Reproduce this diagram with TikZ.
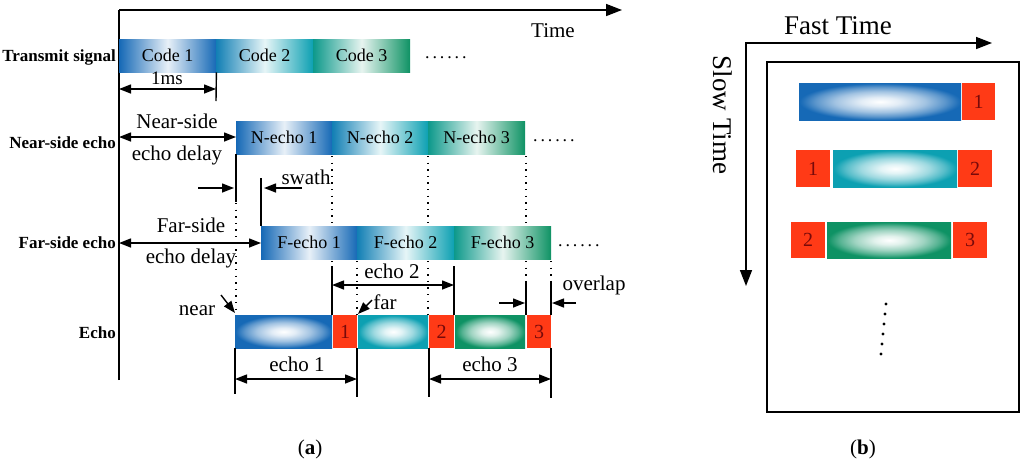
\documentclass[tikz,border=0pt]{standalone}
\usepackage{fontspec}
\setmainfont{Liberation Serif}
\usetikzlibrary{arrows.meta}
\definecolor{blueC}{RGB}{22,105,182}
\definecolor{tealC}{RGB}{12,160,178}
\definecolor{greenC}{RGB}{14,146,100}
\definecolor{redC}{RGB}{255,58,22}
\definecolor{numC}{RGB}{120,10,10}
\pgfdeclareradialshading{radblue}{\pgfpoint{0bp}{0bp}}{color(0bp)=(white); color(6bp)=(blueC!12); color(14bp)=(blueC!40); color(20bp)=(blueC!70); color(24bp)=(blueC!95); color(25bp)=(blueC); color(50bp)=(blueC)}
\pgfdeclareradialshading{radteal}{\pgfpoint{0bp}{0bp}}{color(0bp)=(white); color(6bp)=(tealC!12); color(14bp)=(tealC!40); color(20bp)=(tealC!70); color(24bp)=(tealC!95); color(25bp)=(tealC); color(50bp)=(tealC)}
\pgfdeclareradialshading{radgreen}{\pgfpoint{0bp}{0bp}}{color(0bp)=(white); color(6bp)=(greenC!12); color(14bp)=(greenC!40); color(20bp)=(greenC!70); color(24bp)=(greenC!95); color(25bp)=(greenC); color(50bp)=(greenC)}
\newcommand\fsz[1]{\fontsize{#1}{#1}\selectfont}
\begin{document}
\begin{tikzpicture}[x=1pt,y=-1pt,
  tip/.tip={Triangle[length=12pt,width=9pt]},
  bigtip/.tip={Triangle[length=16pt,width=12pt]},
  hbar/.style 2 args={inner sep=0pt, anchor=north west, minimum height=33pt,
     left color=#1, right color=#2, middle color=#2!10, font=\fsz{18}},
  rbar/.style={inner sep=0pt, anchor=north west, minimum height=33pt,
     shading=#1},
  redbox/.style={inner sep=0pt, anchor=north west, minimum height=33pt,
     fill=redC, text=numC, font=\fsz{20}},
  lab/.style={font=\fsz{21}, inner sep=0pt},
  rowlab/.style={font=\bfseries\fsz{17}, anchor=east, inner sep=0pt},
  ln/.style={line width=1.4pt},
  dots/.style={line width=1.4pt, dash pattern=on 1.4pt off 5.2pt},
  dim/.style={line width=1.4pt, tip-tip},
  arr/.style={line width=1.4pt, -tip},
  ell/.style={font=\fsz{18}\addfontfeature{LetterSpace=16}, inner sep=0pt}]
\useasboundingbox (0,0) rectangle (1024,469);

% ---------- panel (a) ----------
\coordinate (orig) at (119,10);
\coordinate (axbot) at (119,380);
\coordinate (axend) at (622,10);
\draw[line width=1.6pt] (axbot) -- (orig);
\draw[line width=1.6pt, -bigtip] (orig) -- (axend);
\node[font=\fsz{21}] (time) at (553,31) {Time};

% row labels
\node[rowlab] (lt) at (116,57) {Transmit signal};
\node[rowlab] (ln) at (116,143) {Near-side echo};
\node[rowlab] (lf) at (116,243) {Far-side echo};
\node[rowlab] (le) at (116,333) {Echo};

% transmit
\node[hbar={blueC}{blueC}, minimum width=97pt] (c1) at (119,39) {Code 1};
\node[hbar={blueC!60!tealC}{tealC}, minimum width=97pt] (c2) at (216,39) {Code 2};
\node[hbar={tealC!50!greenC}{greenC}, minimum width=97pt] (c3) at (313,39) {Code 3};
\node[ell, anchor=west] (d1) at (425,58) {......};

% 1ms
\draw[ln] (c1.south east) -- (216,101);
\draw[dim] (119,89) -- (216,89);
\node[font=\fsz{19}, inner sep=0pt] (ms) at (167,78) {1ms};

% near-side echo
\node[hbar={blueC}{blueC}, minimum width=96pt] (n1) at (236,121) {N-echo 1};
\node[hbar={blueC!60!tealC}{tealC}, minimum width=96pt] (n2) at (332,121) {N-echo 2};
\node[hbar={tealC!50!greenC}{greenC}, minimum width=97pt] (n3) at (428,121) {N-echo 3};
\node[ell, anchor=west] (d2) at (533,141) {......};
\draw[dim] (119,137) -- (n1.west |- 0,137);
\node[lab] (nsd1) at (177,121) {Near-side};
\node[lab] (nsd2) at (177,155) {echo delay};

% swath
\draw[ln] (n1.south west) -- (236,202);
\draw[arr] (198,188) -- (234,188);
\draw[arr] (302,188) -- (264,188);
\node[lab] (sw) at (306,177) {swath};

% far-side echo
\node[hbar={blueC}{blueC}, minimum width=96pt] (f1) at (261,226) {F-echo 1};
\node[hbar={blueC!60!tealC}{tealC}, minimum width=97pt] (f2) at (357,226) {F-echo 2};
\node[hbar={tealC!50!greenC}{greenC}, minimum width=97pt] (f3) at (454,226) {F-echo 3};
\node[ell, anchor=west] (d3) at (558,246) {......};
\draw[ln] (f1.north west) -- (261,178);
\draw[dim] (119,243) -- (f1.west |- 0,243);
\node[lab] (fsd1) at (191,225) {Far-side};
\node[lab] (fsd2) at (191,258) {echo delay};

% dotted guides
\draw[dots] (236,203) -- (236,314);
\draw[dots] (332,156) -- (332,225);
\draw[dots] (428,156) -- (428,225);
\draw[dots] (526,156) -- (526,225);
\draw[dots] (332,261) -- (332,266);
\draw[dots] (428,261) -- (428,314);
\draw[dots] (357,261) -- (357,314);
\draw[dots] (526,261) -- (526,281);
\draw[dots] (551,261) -- (551,281);

% echo row
\node[rbar=radblue, minimum width=97pt] (e1) at (235,315) {};
\node[redbox, minimum width=24pt] (r1) at (333,315) {1};
\node[rbar=radteal, minimum width=70pt] (e2) at (358,315) {};
\node[redbox, minimum width=25pt] (r2) at (429,315) {2};
\node[rbar=radgreen, minimum width=70pt] (e3) at (455,315) {};
\node[redbox, minimum width=24pt] (r3) at (527,315) {3};

% echo 2
\draw[ln] (332,266) -- (332,315);
\draw[ln] (454,266) -- (454,315);
\draw[dim] (332,285) -- (454,285);
\node[lab] (ec2) at (392,271) {echo 2};

% overlap
\draw[ln] (526,282) -- (526,315);
\draw[ln] (551,282) -- (551,315);
\draw[arr] (499,303) -- (525,303);
\draw[arr] (576,303) -- (552,303);
\node[lab] (ov) at (594,285) {overlap};

% near / far
\node[lab] (nr) at (197,311) {near};
\draw[arr] (221,295) -- (235,313);
\node[lab] (fr) at (385,302) {far};
\draw[arr] (372,300) -- (358,314);

% echo 1 / echo 3
\draw[ln] (235,348) -- (235,394);
\draw[ln] (357,348) -- (357,397);
\draw[dim] (235,379) -- (357,379);
\node[lab] (ec1) at (297,364) {echo 1};
\draw[ln] (429,348) -- (429,397);
\draw[ln] (551,348) -- (551,398);
\draw[dim] (429,379) -- (551,379);
\node[lab] (ec3) at (490,364) {echo 3};

\node[font=\fsz{21}] (capa) at (310,449) {(\textbf{a})};

% ---------- panel (b) ----------
\node[font=\fsz{27}] (ft) at (838,26) {Fast Time};
\node[font=\fsz{27}, rotate=-90] (st) at (723,115) {Slow Time};
\coordinate (corner) at (746,43);
\draw[line width=1.6pt, bigtip-bigtip] (746,286) -- (corner) -- (992,43);
\draw[line width=1.5pt] (767,62) rectangle (1019,412);

\node[rbar=radblue, minimum width=162pt, minimum height=37pt] (b1) at (799,83) {};
\node[redbox, minimum width=33pt, minimum height=37pt] (b1r) at (962,83) {1};

\node[redbox, minimum width=34pt, minimum height=37pt] (b2l) at (796,150) {1};
\node[rbar=radteal, minimum width=124pt, minimum height=37pt] (b2) at (833,150) {};
\node[redbox, minimum width=34pt, minimum height=37pt] (b2r) at (958,150) {2};

\node[redbox, minimum width=34pt, minimum height=36pt] (b3l) at (791,222) {2};
\node[rbar=radgreen, minimum width=124pt, minimum height=36pt] (b3) at (827,222) {};
\node[redbox, minimum width=34pt, minimum height=36pt] (b3r) at (953,222) {3};

\foreach \i in {0,...,5}
  \fill ({886-\i},{304+10*\i}) circle (1.6pt);

\node[font=\fsz{21}] (capb) at (863,449) {(\textbf{b})};
\end{tikzpicture}
\end{document}
